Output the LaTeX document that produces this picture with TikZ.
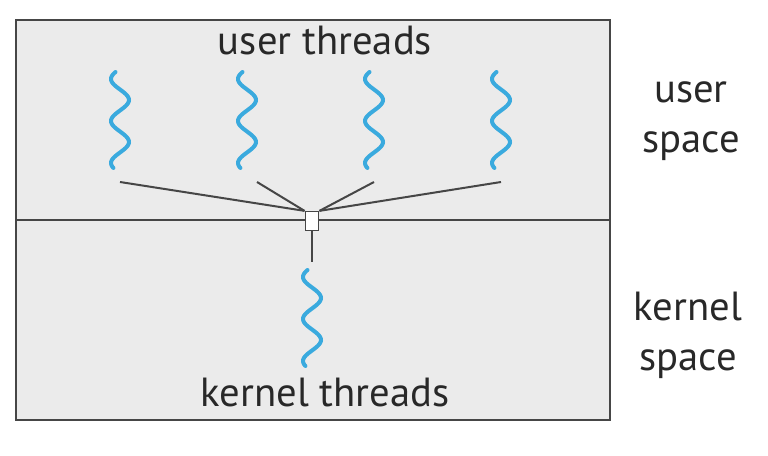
\documentclass[tikz,border=0pt]{standalone}
\usepackage{fontspec}
\setmainfont{PT Sans}
\usetikzlibrary{positioning}
\definecolor{threadblue}{RGB}{58,170,222}
\definecolor{boxgray}{RGB}{235,235,235}
\definecolor{linegray}{RGB}{70,70,70}
\definecolor{textgray}{RGB}{40,40,40}
\tikzset{
    %Define style for the space box
    spacebox/.style={
           draw=linegray,
           line width=1.2pt,
           fill=boxgray},
    %Define style for the wavy threads
    thread/.style={
           draw=threadblue,
           line width=3pt,
           line cap=round},
    %Define style for the joining box
    mapbox/.style={
           rectangle,
           draw=linegray, line width=1.2pt,
           fill=white,
           inner sep=0pt,
           minimum width=10pt,
           minimum height=14pt},
    %Define style for labels
    label/.style={
           text=textgray,
           font=\fontsize{30.5}{37.5}\selectfont,
           inner sep=0pt},
    sidelabel/.style={
           label,
           align=center},
    % Define connector style
    link/.style={
           draw=linegray,
           line width=1.5pt}
}
\newcommand{\wavethread}[2]{%
  \draw[thread] plot[domain=0:96, samples=90, smooth]
    ({#1+9*sin((\x-17.5)*8.5714)}, {#2+\x});}

\begin{document}
\begin{tikzpicture}[x=0.75pt,y=-0.75pt]
\useasboundingbox (0,0) rectangle (768,456);
\draw[spacebox] (16,20) rectangle (610,420);
\draw[link] (16,220) -- (610,220);
% user threads
\wavethread{120}{72}
\wavethread{247}{72}
\wavethread{374}{72}
\wavethread{501}{72}
% kernel thread
\wavethread{312}{270}
\coordinate (u1) at (120,182);
\coordinate (u2) at (257,182);
\coordinate (u3) at (374,182);
\coordinate (u4) at (501,182);
\coordinate (k1) at (312,262);
\node[mapbox](m) at (312,221){};
 \path[link]
    (u1) edge (m.north west)
    (u2) edge (m.north west)
    (u3) edge (m.north east)
    (u4) edge (m.north east)
    (m.south) edge (k1);
\node[mapbox] at (m){};
\node[label](ut) at (325,41){user threads};
\node[label](kt) at (325,393){kernel threads};
\node[sidelabel](us) at (691,121){user\\space};
\node[sidelabel](ks) at (688,335){kernel\\space};
\end{tikzpicture}
\end{document}
